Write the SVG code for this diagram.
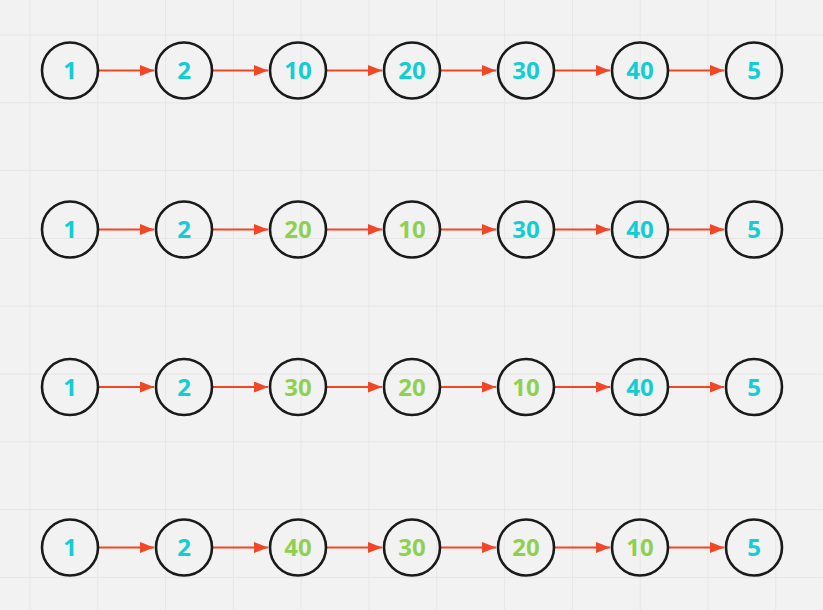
<svg xmlns="http://www.w3.org/2000/svg" width="823" height="610" viewBox="0 0 823 610">
<defs>
<style>
.grid line{stroke:#e6e6e6;stroke-width:1}
.node circle{fill:none;stroke:#1a1a1a;stroke-width:2.6}
.node text{font-family:"Open Sans",sans-serif;font-weight:700;font-size:24px;text-anchor:middle}
.c{fill:#13cdd4}
.g{fill:#8fd14f}
.edges line{stroke:#f24726;stroke-width:2;marker-end:url(#ah)}
</style>
<marker id="ah" markerUnits="userSpaceOnUse" markerWidth="15" markerHeight="11" refX="14" refY="5.5" orient="auto">
<path d="M0,0 L14,5.5 L0,11 Z" fill="#f24726"/>
</marker>
</defs>
<rect width="823" height="610" fill="#f2f2f2"/>
<g class="grid">
<line x1="30" y1="0" x2="30" y2="610"/><line x1="97.8" y1="0" x2="97.8" y2="610"/><line x1="165.6" y1="0" x2="165.6" y2="610"/><line x1="233.4" y1="0" x2="233.4" y2="610"/><line x1="301.2" y1="0" x2="301.2" y2="610"/><line x1="369" y1="0" x2="369" y2="610"/><line x1="436.8" y1="0" x2="436.8" y2="610"/><line x1="504.6" y1="0" x2="504.6" y2="610"/><line x1="572.4" y1="0" x2="572.4" y2="610"/><line x1="640.2" y1="0" x2="640.2" y2="610"/><line x1="708" y1="0" x2="708" y2="610"/><line x1="775.8" y1="0" x2="775.8" y2="610"/>
<line x1="0" y1="35" x2="823" y2="35"/><line x1="0" y1="102.8" x2="823" y2="102.8"/><line x1="0" y1="170.6" x2="823" y2="170.6"/><line x1="0" y1="238.4" x2="823" y2="238.4"/><line x1="0" y1="306.2" x2="823" y2="306.2"/><line x1="0" y1="374" x2="823" y2="374"/><line x1="0" y1="441.8" x2="823" y2="441.8"/><line x1="0" y1="509.6" x2="823" y2="509.6"/><line x1="0" y1="577.4" x2="823" y2="577.4"/>
</g>
<g class="edges">
<line x1="99" y1="70.5" x2="154" y2="70.5"/><line x1="213" y1="70.5" x2="268" y2="70.5"/><line x1="327" y1="70.5" x2="382" y2="70.5"/><line x1="441" y1="70.5" x2="496" y2="70.5"/><line x1="555" y1="70.5" x2="610" y2="70.5"/><line x1="669" y1="70.5" x2="724" y2="70.5"/>
<line x1="99" y1="229.5" x2="154" y2="229.5"/><line x1="213" y1="229.5" x2="268" y2="229.5"/><line x1="327" y1="229.5" x2="382" y2="229.5"/><line x1="441" y1="229.5" x2="496" y2="229.5"/><line x1="555" y1="229.5" x2="610" y2="229.5"/><line x1="669" y1="229.5" x2="724" y2="229.5"/>
<line x1="99" y1="387" x2="154" y2="387"/><line x1="213" y1="387" x2="268" y2="387"/><line x1="327" y1="387" x2="382" y2="387"/><line x1="441" y1="387" x2="496" y2="387"/><line x1="555" y1="387" x2="610" y2="387"/><line x1="669" y1="387" x2="724" y2="387"/>
<line x1="99" y1="547.5" x2="154" y2="547.5"/><line x1="213" y1="547.5" x2="268" y2="547.5"/><line x1="327" y1="547.5" x2="382" y2="547.5"/><line x1="441" y1="547.5" x2="496" y2="547.5"/><line x1="555" y1="547.5" x2="610" y2="547.5"/><line x1="669" y1="547.5" x2="724" y2="547.5"/>
</g>
<g id="r1n1" class="node"><circle cx="70" cy="70.5" r="28"/><text x="70" y="79" class="c">1</text></g>
<g id="r1n2" class="node"><circle cx="184" cy="70.5" r="28"/><text x="184" y="79" class="c">2</text></g>
<g id="r1n3" class="node"><circle cx="298" cy="70.5" r="28"/><text x="298" y="79" class="c">10</text></g>
<g id="r1n4" class="node"><circle cx="412" cy="70.5" r="28"/><text x="412" y="79" class="c">20</text></g>
<g id="r1n5" class="node"><circle cx="526" cy="70.5" r="28"/><text x="526" y="79" class="c">30</text></g>
<g id="r1n6" class="node"><circle cx="640" cy="70.5" r="28"/><text x="640" y="79" class="c">40</text></g>
<g id="r1n7" class="node"><circle cx="754" cy="70.5" r="28"/><text x="754" y="79" class="c">5</text></g>
<g id="r2n1" class="node"><circle cx="70" cy="229.5" r="28"/><text x="70" y="238" class="c">1</text></g>
<g id="r2n2" class="node"><circle cx="184" cy="229.5" r="28"/><text x="184" y="238" class="c">2</text></g>
<g id="r2n3" class="node"><circle cx="298" cy="229.5" r="28"/><text x="298" y="238" class="g">20</text></g>
<g id="r2n4" class="node"><circle cx="412" cy="229.5" r="28"/><text x="412" y="238" class="g">10</text></g>
<g id="r2n5" class="node"><circle cx="526" cy="229.5" r="28"/><text x="526" y="238" class="c">30</text></g>
<g id="r2n6" class="node"><circle cx="640" cy="229.5" r="28"/><text x="640" y="238" class="c">40</text></g>
<g id="r2n7" class="node"><circle cx="754" cy="229.5" r="28"/><text x="754" y="238" class="c">5</text></g>
<g id="r3n1" class="node"><circle cx="70" cy="387" r="28"/><text x="70" y="395.5" class="c">1</text></g>
<g id="r3n2" class="node"><circle cx="184" cy="387" r="28"/><text x="184" y="395.5" class="c">2</text></g>
<g id="r3n3" class="node"><circle cx="298" cy="387" r="28"/><text x="298" y="395.5" class="g">30</text></g>
<g id="r3n4" class="node"><circle cx="412" cy="387" r="28"/><text x="412" y="395.5" class="g">20</text></g>
<g id="r3n5" class="node"><circle cx="526" cy="387" r="28"/><text x="526" y="395.5" class="g">10</text></g>
<g id="r3n6" class="node"><circle cx="640" cy="387" r="28"/><text x="640" y="395.5" class="c">40</text></g>
<g id="r3n7" class="node"><circle cx="754" cy="387" r="28"/><text x="754" y="395.5" class="c">5</text></g>
<g id="r4n1" class="node"><circle cx="70" cy="547.5" r="28"/><text x="70" y="556" class="c">1</text></g>
<g id="r4n2" class="node"><circle cx="184" cy="547.5" r="28"/><text x="184" y="556" class="c">2</text></g>
<g id="r4n3" class="node"><circle cx="298" cy="547.5" r="28"/><text x="298" y="556" class="g">40</text></g>
<g id="r4n4" class="node"><circle cx="412" cy="547.5" r="28"/><text x="412" y="556" class="g">30</text></g>
<g id="r4n5" class="node"><circle cx="526" cy="547.5" r="28"/><text x="526" y="556" class="g">20</text></g>
<g id="r4n6" class="node"><circle cx="640" cy="547.5" r="28"/><text x="640" y="556" class="g">10</text></g>
<g id="r4n7" class="node"><circle cx="754" cy="547.5" r="28"/><text x="754" y="556" class="c">5</text></g>
</svg>
